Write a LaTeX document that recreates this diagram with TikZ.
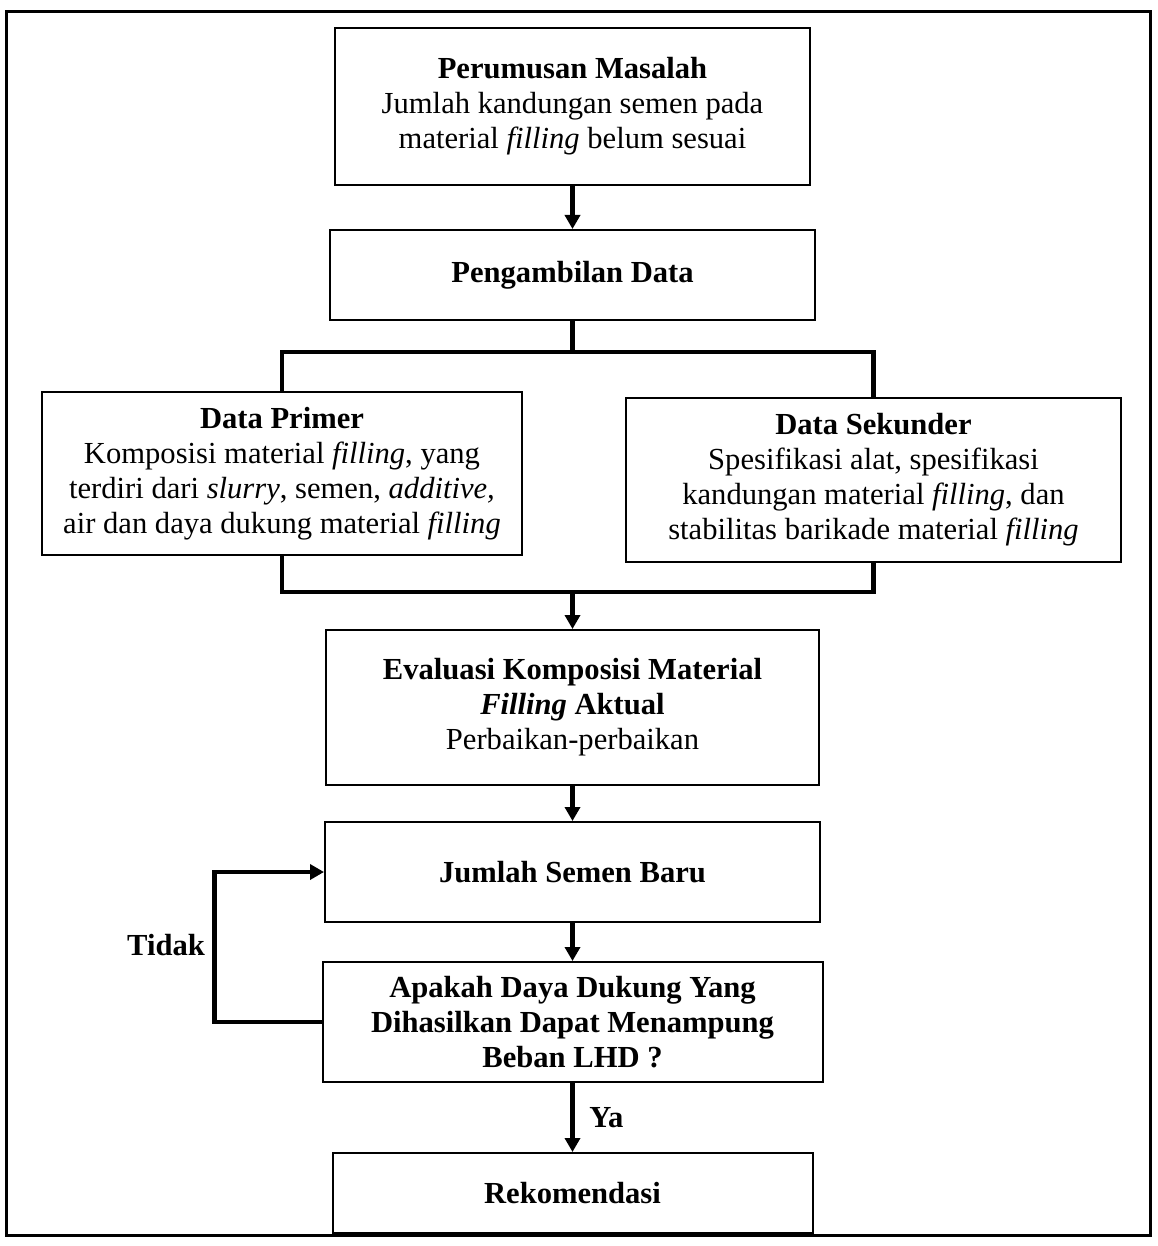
\documentclass[tikz,border=0pt]{standalone}
\usepackage{fontspec}
\setmainfont{Liberation Serif}
\usetikzlibrary{arrows.meta}
\begin{document}
\begin{tikzpicture}[x=0.5pt,y=-0.5pt,
  box/.style={draw,line width=1pt,inner sep=0pt,align=center,font=\fontsize{15.3}{17.5}\selectfont},
  conn/.style={line width=2.2pt},
  arr/.style={line width=2.2pt,-{Triangle[length=7pt,width=7.5pt]}},
  lbl/.style={font=\fontsize{15.3}{17.5}\selectfont\bfseries}]
\useasboundingbox (0,0) rectangle (1157,1246);
\draw[line width=1.5pt] (6,12) rectangle (1150,1235);
\node[box,minimum width=237.5pt,minimum height=78.5pt] (b1) at (572.5,106.5)
  {\textbf{Perumusan Masalah}\\Jumlah kandungan semen pada\\material \textit{filling} belum sesuai};
\node[box,minimum width=242.5pt,minimum height=45pt] (b2) at (572.5,275)
  {\textbf{Pengambilan Data}};
\node[box,minimum width=240pt,minimum height=81.5pt] (b3) at (282,473.5)
  {\textbf{Data Primer}\\Komposisi material \textit{filling}, yang\\terdiri dari \textit{slurry}, semen, \textit{additive,}\\air dan daya dukung material \textit{filling}};
\node[box,minimum width=247.5pt,minimum height=82pt] (b4) at (873.5,480)
  {\textbf{Data Sekunder}\\Spesifikasi alat, spesifikasi\\kandungan material \textit{filling}, dan\\stabilitas barikade material \textit{filling}};
\node[box,minimum width=246.5pt,minimum height=77.5pt] (b5) at (572.5,707.5)
  {\textbf{Evaluasi Komposisi Material}\\\textbf{\textit{Filling} Aktual}\\Perbaikan-perbaikan};
\node[box,minimum width=247.5pt,minimum height=50pt] (b6) at (572.5,872)
  {\textbf{Jumlah Semen Baru}};
\node[box,minimum width=250pt,minimum height=60pt] (b7) at (572.5,1022)
  {\textbf{Apakah Daya Dukung Yang}\\\textbf{Dihasilkan Dapat Menampung}\\\textbf{Beban LHD ?}};
\node[box,minimum width=240pt,minimum height=40pt] (b8) at (572.5,1193)
  {\textbf{Rekomendasi}};
\coordinate (jt) at (572.5,352);
\coordinate (jb) at (572.5,592);
\draw[arr] (b1.south) -- (b2.north);
\draw[conn] (b2.south) -- (jt);
\draw[conn] (b3.north) |- (jt) -| (b4.north);
\draw[conn] (b3.south) |- (jb) -| (b4.south);
\draw[arr] (jb) -- (b5.north);
\draw[arr] (b5.south) -- (b6.north);
\draw[arr] (b6.south) -- (b7.north);
\draw[arr] (b7.south) -- node[lbl,right=4pt] (ya) {Ya} (b8.north);
\draw[arr] (b7.west) -- ++(-107,0) |- (b6.west);
\node[lbl] (tidak) at (166,945) {Tidak};
\end{tikzpicture}
\end{document}
